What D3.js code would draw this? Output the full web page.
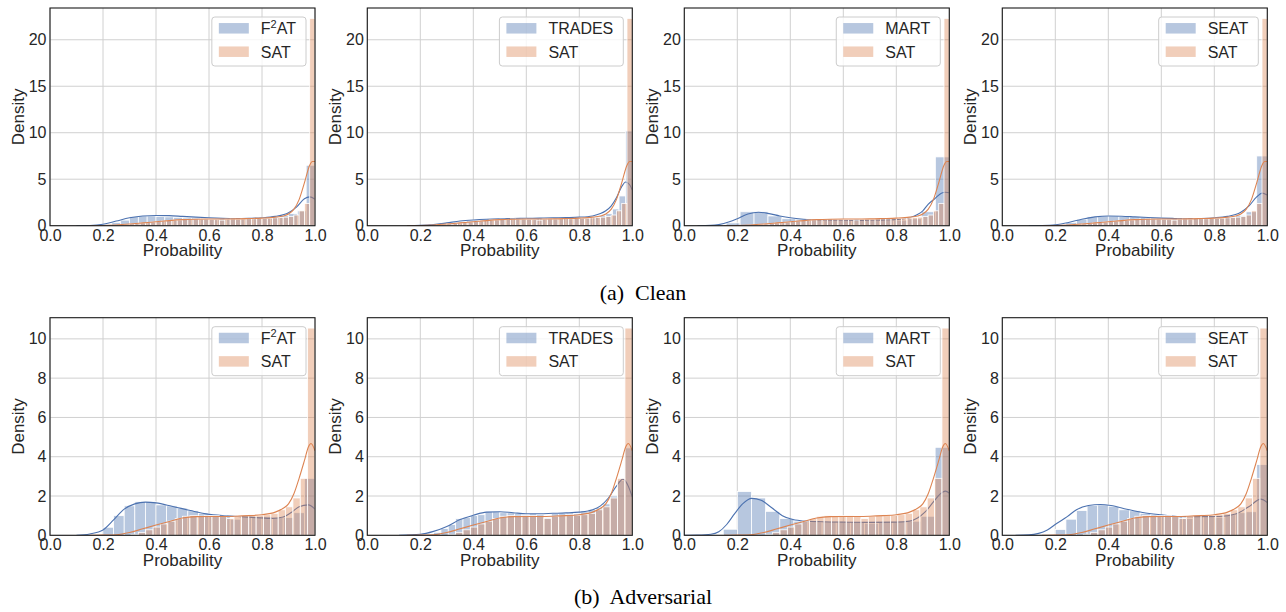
<!DOCTYPE html>
<html>
<head>
<meta charset="utf-8">
<script src="https://cdn.jsdelivr.net/npm/d3@7"></script>
<style>
  body { margin: 0; background: #fff; }
  svg text { font-family: "Liberation Sans", Arial, sans-serif; fill: #262626; }
  .caption { font-family: "Liberation Serif", "Times New Roman", serif; fill: #000; }
</style>
</head>
<body>
<svg id="fig" width="1286" height="612"></svg>
<script>
// ---- axis ticks ----
const xTicks = [0, 0.2, 0.4, 0.6, 0.8, 1.0];
const yTicksClean = [0, 5, 10, 15, 20];
const yTicksAdv = [0, 2, 4, 6, 8, 10];

// ---- labels ----
const methodNames = ["F2AT", "TRADES", "MART", "SEAT"];
const baselineName = "SAT";
const rowCaptions = ["(a)  Clean", "(b)  Adversarial"];

// ---- clean inputs: histogram bins [first edge, bin width] and densities ----
const satCleanBins = [0.24, 0.02];
const satCleanHeights = [0.05, 0.1, 0.15, 0.2, 0.25, 0.3, 0.35, 0.4, 0.45, 0.5, 0.55, 0.6, 0.62, 0.7, 0.68, 0.72, 0.7, 0.7, 0.68, 0.65, 0.6, 0.7, 0.72, 0.7, 0.75, 0.78, 0.75, 0.8, 0.8, 0.8, 0.85, 0.88, 0.92, 1.0, 1.15, 1.6, 2.4, 22.3];
const satCleanKde = [[0.15, 0], [0.2, 0.02], [0.25, 0.08], [0.3, 0.18], [0.35, 0.3], [0.4, 0.42], [0.45, 0.55], [0.5, 0.65], [0.55, 0.7], [0.6, 0.72], [0.65, 0.72], [0.7, 0.73], [0.75, 0.77], [0.8, 0.82], [0.85, 0.92], [0.88, 1.05], [0.9, 1.25], [0.92, 1.75], [0.94, 2.8], [0.96, 4.6], [0.98, 6.5], [0.99, 6.9], [1.0, 6.9]];

const f2atCleanBins = [5 / 30, 1 / 30];
const f2atCleanHeights = [0.05, 0.15, 0.35, 0.6, 1.0, 1.05, 1.05, 1.0, 0.95, 0.9, 0.85, 0.85, 0.8, 0.75, 0.75, 0.75, 0.7, 0.75, 0.8, 0.85, 0.95, 1.1, 1.3, 1.6, 6.5];
const f2atCleanKde = [[0.1, 0], [0.15, 0.02], [0.2, 0.15], [0.25, 0.5], [0.3, 0.85], [0.35, 1.05], [0.4, 1.1], [0.45, 1.08], [0.5, 1.0], [0.55, 0.92], [0.6, 0.85], [0.65, 0.8], [0.7, 0.78], [0.75, 0.8], [0.8, 0.85], [0.85, 1.0], [0.9, 1.4], [0.93, 2.0], [0.96, 2.9], [0.98, 3.1], [1.0, 2.85]];

const tradesCleanBins = [0.2, 0.025];
const tradesCleanHeights = [0.03, 0.08, 0.15, 0.2, 0.3, 0.38, 0.45, 0.55, 0.6, 0.62, 0.7, 0.72, 0.75, 0.72, 0.78, 0.75, 0.78, 0.8, 0.75, 0.82, 0.85, 0.8, 0.85, 0.9, 0.88, 0.95, 1.0, 1.1, 1.3, 1.8, 3.2, 10.2];
const tradesCleanKde = [[0.15, 0], [0.2, 0.03], [0.25, 0.12], [0.3, 0.3], [0.35, 0.5], [0.4, 0.62], [0.45, 0.7], [0.5, 0.75], [0.55, 0.78], [0.6, 0.8], [0.65, 0.82], [0.7, 0.85], [0.75, 0.88], [0.8, 0.92], [0.85, 1.05], [0.88, 1.3], [0.9, 1.6], [0.92, 2.1], [0.94, 3.0], [0.96, 4.2], [0.975, 4.7], [0.99, 4.4], [1.0, 3.85]];

const martCleanBins = [3 / 19, 1 / 19];
const martCleanHeights = [0.3, 1.5, 1.5, 1.05, 0.75, 0.7, 0.62, 0.6, 0.55, 0.55, 0.55, 0.6, 0.6, 0.75, 1.5, 7.4];
const martCleanKde = [[0.05, 0], [0.1, 0.03], [0.13, 0.12], [0.17, 0.42], [0.2, 0.75], [0.24, 1.25], [0.28, 1.44], [0.32, 1.3], [0.36, 1.05], [0.4, 0.85], [0.45, 0.7], [0.5, 0.62], [0.55, 0.6], [0.6, 0.58], [0.65, 0.57], [0.7, 0.58], [0.75, 0.6], [0.8, 0.65], [0.85, 0.85], [0.88, 1.2], [0.9, 1.6], [0.92, 2.3], [0.945, 2.9], [0.97, 3.5], [0.985, 3.6], [1.0, 3.55]];

const seatCleanBins = [0.16, 0.04];
const seatCleanHeights = [0.03, 0.1, 0.35, 0.7, 0.95, 1.05, 1.05, 1.0, 0.95, 0.9, 0.85, 0.8, 0.75, 0.75, 0.75, 0.8, 0.85, 0.95, 1.1, 1.5, 7.5];
const seatCleanKde = [[0.1, 0], [0.15, 0.02], [0.2, 0.1], [0.25, 0.35], [0.3, 0.7], [0.35, 0.95], [0.4, 1.05], [0.45, 1.02], [0.5, 0.95], [0.55, 0.88], [0.6, 0.82], [0.65, 0.78], [0.7, 0.76], [0.75, 0.78], [0.8, 0.85], [0.85, 1.0], [0.88, 1.2], [0.9, 1.45], [0.93, 2.1], [0.96, 3.1], [0.98, 3.5], [1.0, 3.3]];

// ---- adversarial inputs ----
const satAdvBins = [11 / 36, 1 / 36];
const satAdvHeights = [0.05, 0.15, 0.28, 0.42, 0.58, 0.72, 0.85, 0.97, 1.0, 0.98, 1.0, 1.0, 0.97, 0.85, 0.97, 1.0, 1.05, 1.02, 1.05, 1.12, 1.3, 1.45, 1.9, 2.9, 10.55];
const satAdvKde = [[0.15, 0], [0.2, 0.01], [0.25, 0.03], [0.3, 0.14], [0.35, 0.33], [0.4, 0.52], [0.45, 0.7], [0.5, 0.88], [0.55, 0.95], [0.6, 0.96], [0.65, 0.96], [0.7, 0.97], [0.75, 1.0], [0.8, 1.05], [0.85, 1.18], [0.88, 1.38], [0.9, 1.6], [0.92, 2.1], [0.94, 2.9], [0.96, 3.8], [0.975, 4.5], [0.985, 4.67], [1.0, 4.3]];

const f2atAdvBins = [0.2, 0.04];
const f2atAdvHeights = [0.41, 1.0, 1.5, 1.72, 1.72, 1.55, 1.5, 1.38, 1.25, 1.12, 1.0, 0.95, 0.82, 0.95, 0.9, 0.95, 0.9, 0.9, 1.15, 2.9];
const f2atAdvKde = [[0.1, 0], [0.15, 0.07], [0.2, 0.27], [0.24, 0.78], [0.28, 1.33], [0.32, 1.6], [0.36, 1.69], [0.4, 1.65], [0.46, 1.48], [0.53, 1.26], [0.59, 1.09], [0.65, 1.0], [0.72, 0.95], [0.78, 0.9], [0.84, 0.86], [0.88, 0.93], [0.91, 1.16], [0.94, 1.45], [0.975, 1.55], [1.0, 1.33]];

const tradesAdvBins = [8 / 36, 1 / 36];
const tradesAdvHeights = [0.05, 0.15, 0.35, 0.55, 0.85, 0.9, 1.0, 1.05, 1.2, 1.2, 1.15, 1.15, 1.1, 1.05, 1.1, 1.05, 0.9, 1.1, 1.1, 1.15, 1.1, 1.2, 1.3, 1.4, 1.6, 2.0, 2.8, 4.45];
const tradesAdvKde = [[0.12, 0], [0.2, 0.05], [0.25, 0.2], [0.3, 0.45], [0.35, 0.8], [0.4, 1.02], [0.45, 1.18], [0.5, 1.2], [0.55, 1.15], [0.6, 1.1], [0.65, 1.1], [0.7, 1.12], [0.75, 1.14], [0.8, 1.18], [0.85, 1.3], [0.88, 1.5], [0.91, 1.9], [0.94, 2.5], [0.965, 2.86], [0.985, 2.5], [1.0, 1.95]];

const martAdvBins = [0.147, 0.0533];
const martAdvHeights = [0.31, 2.23, 1.9, 1.22, 0.85, 0.72, 0.68, 0.7, 0.68, 0.68, 0.62, 0.68, 0.68, 0.72, 0.97, 4.48];
const martAdvKde = [[0.0, 0], [0.05, 0.01], [0.1, 0.05], [0.13, 0.18], [0.16, 0.55], [0.19, 1.1], [0.22, 1.6], [0.255, 1.88], [0.29, 1.78], [0.33, 1.4], [0.37, 1.0], [0.41, 0.8], [0.46, 0.72], [0.52, 0.69], [0.6, 0.67], [0.7, 0.66], [0.8, 0.67], [0.85, 0.72], [0.88, 0.88], [0.91, 1.2], [0.94, 1.7], [0.965, 2.1], [0.985, 2.25], [1.0, 2.15]];

const seatAdvBins = [0.2, 0.04];
const seatAdvHeights = [0.3, 0.82, 1.26, 1.52, 1.55, 1.48, 1.3, 1.25, 1.12, 1.05, 1.0, 0.98, 0.85, 0.98, 0.98, 0.92, 1.05, 1.15, 1.2, 3.6];
const seatAdvKde = [[0.05, 0], [0.1, 0.02], [0.17, 0.27], [0.205, 0.6], [0.245, 0.95], [0.28, 1.3], [0.325, 1.52], [0.37, 1.57], [0.41, 1.52], [0.47, 1.33], [0.53, 1.16], [0.6, 1.04], [0.66, 0.96], [0.72, 0.95], [0.82, 0.96], [0.88, 1.08], [0.93, 1.45], [0.975, 1.84], [1.0, 1.67]];

// ---- styling and layout ----
const BLUE = "#4c72b0", ORANGE = "#dd8452";
const BAR_ALPHA = 0.4;
const colLefts = [50, 367.3, 684.3, 1002.3];
const panelW = 265;

const rows = [
  {
    top: 8, bottom: 225.7, yTicks: yTicksClean, caption: rowCaptions[0], captionY: 300,
    sat: { bins: satCleanBins, heights: satCleanHeights, kde: satCleanKde },
    methods: [
      { bins: f2atCleanBins, heights: f2atCleanHeights, kde: f2atCleanKde },
      { bins: tradesCleanBins, heights: tradesCleanHeights, kde: tradesCleanKde },
      { bins: martCleanBins, heights: martCleanHeights, kde: martCleanKde },
      { bins: seatCleanBins, heights: seatCleanHeights, kde: seatCleanKde }
    ]
  },
  {
    top: 317.7, bottom: 535.3, yTicks: yTicksAdv, caption: rowCaptions[1], captionY: 604,
    sat: { bins: satAdvBins, heights: satAdvHeights, kde: satAdvKde },
    methods: [
      { bins: f2atAdvBins, heights: f2atAdvHeights, kde: f2atAdvKde },
      { bins: tradesAdvBins, heights: tradesAdvHeights, kde: tradesAdvKde },
      { bins: martAdvBins, heights: martAdvHeights, kde: martAdvKde },
      { bins: seatAdvBins, heights: seatAdvHeights, kde: seatAdvKde }
    ]
  }
];

const svg = d3.select("#fig");
const defs = svg.append("defs");
let clipId = 0;

function drawSeries(g, x, y, s, color) {
  const [start, w] = s.bins;
  g.append("g").selectAll("rect").data(s.heights).join("rect")
    .attr("x", (d, i) => x(start + i * w))
    .attr("width", (d, i) => x(start + (i + 1) * w) - x(start + i * w))
    .attr("y", d => y(d))
    .attr("height", d => y(0) - y(d))
    .attr("fill", color).attr("fill-opacity", BAR_ALPHA)
    .attr("stroke", "#ffffff").attr("stroke-width", 0.8);
  g.append("path").datum(s.kde)
    .attr("d", d3.line().x(d => x(d[0])).y(d => y(d[1])).curve(d3.curveMonotoneX))
    .attr("fill", "none").attr("stroke", color).attr("stroke-width", 1.1);
}

function methodLabel(textSel, name) {
  if (name === "F2AT") {
    textSel.append("tspan").text("F");
    textSel.append("tspan").text("2").attr("font-size", "11px").attr("dy", "-6.5");
    textSel.append("tspan").text("AT").attr("dy", "6.5");
  } else {
    textSel.text(name);
  }
}

rows.forEach(row => {
  const ymax = d3.max([row.sat, ...row.methods], s => d3.max(s.heights)) * 1.05;
  row.methods.forEach((m, ci) => {
    const left = colLefts[ci], right = left + panelW;
    const x = d3.scaleLinear().domain([0, 1]).range([left, right]);
    const y = d3.scaleLinear().domain([0, ymax]).range([row.bottom, row.top]);
    const g = svg.append("g");

    // grid
    g.append("g").selectAll("line").data(xTicks).join("line")
      .attr("x1", d => x(d)).attr("x2", d => x(d))
      .attr("y1", row.top).attr("y2", row.bottom)
      .attr("stroke", "#d0d0d0").attr("stroke-width", 1);
    g.append("g").selectAll("line").data(row.yTicks).join("line")
      .attr("x1", left).attr("x2", right)
      .attr("y1", d => y(d)).attr("y2", d => y(d))
      .attr("stroke", "#d0d0d0").attr("stroke-width", 1);

    // plot contents, clipped to the axes box
    const id = "clip" + (clipId++);
    defs.append("clipPath").attr("id", id).append("rect")
      .attr("x", left).attr("y", row.top).attr("width", panelW).attr("height", row.bottom - row.top);
    const plot = g.append("g").attr("clip-path", `url(#${id})`);
    drawSeries(plot, x, y, m, BLUE);
    drawSeries(plot, x, y, row.sat, ORANGE);

    // frame
    g.append("rect").attr("x", left).attr("y", row.top)
      .attr("width", panelW).attr("height", row.bottom - row.top)
      .attr("fill", "none").attr("stroke", "#1a1a1a").attr("stroke-width", 1.1);

    // axes
    const ax = g.append("g").attr("transform", `translate(0,${row.bottom})`)
      .call(d3.axisBottom(x).tickValues(xTicks).tickFormat(d3.format(".1f")).tickSize(0).tickPadding(3.6));
    const ay = g.append("g").attr("transform", `translate(${left},0)`)
      .call(d3.axisLeft(y).tickValues(row.yTicks).tickFormat(d3.format("d")).tickSize(0).tickPadding(3.5));
    [ax, ay].forEach(a => {
      a.select(".domain").remove();
      a.selectAll("text").attr("font-size", "16px").attr("fill", "#262626")
        .style("font-family", '"Liberation Sans", Arial, sans-serif');
    });

    // axis titles
    g.append("text").attr("x", (left + right) / 2).attr("y", row.bottom + 30.5)
      .attr("text-anchor", "middle").attr("font-size", "17px").text("Probability");
    g.append("text").attr("transform", `translate(${left - 26},${(row.top + row.bottom) / 2}) rotate(-90)`)
      .attr("text-anchor", "middle").attr("font-size", "17px").text("Density");

    // legend
    const lg = g.append("g");
    const box = lg.append("rect").attr("fill", "#ffffff").attr("fill-opacity", 0.8)
      .attr("stroke", "#cccccc").attr("stroke-width", 1).attr("rx", 3);
    const entries = [{ name: methodNames[ci], color: BLUE }, { name: baselineName, color: ORANGE }];
    const texts = [];
    entries.forEach((e, k) => {
      const cy = row.top + 9 + 11.3 + k * 23.4;
      lg.append("rect").attr("class", "patch")
        .attr("y", cy - 5.25).attr("width", 30).attr("height", 10.5)
        .attr("fill", e.color).attr("fill-opacity", BAR_ALPHA);
      const t = lg.append("text").attr("y", cy + 5.8).attr("font-size", "16px");
      methodLabel(t, e.name);
      texts.push(t);
    });
    const tw = d3.max(texts, t => t.node().getComputedTextLength());
    const boxW = 7 + 30 + 12 + tw + 10;
    const boxLeft = right - 9 - boxW;
    box.attr("x", boxLeft).attr("y", row.top + 9).attr("width", boxW).attr("height", 49);
    lg.selectAll("rect.patch").attr("x", boxLeft + 7);
    texts.forEach(t => t.attr("x", boxLeft + 49));
  });

  svg.append("text").attr("class", "caption")
    .attr("x", 643).attr("y", row.captionY).attr("text-anchor", "middle")
    .attr("font-size", "22px").style("white-space", "pre").attr("xml:space", "preserve")
    .text(row.caption);
});
</script>
</body>
</html>
